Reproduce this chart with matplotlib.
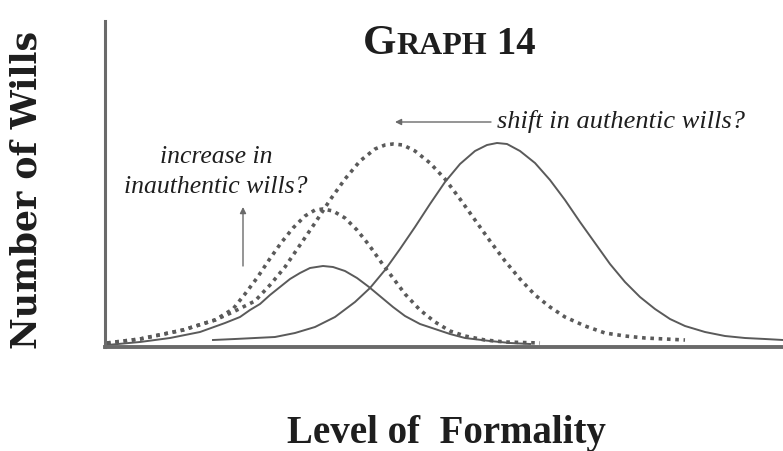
import matplotlib
matplotlib.use("Agg")
import matplotlib.pyplot as plt
from matplotlib.transforms import IdentityTransform

# 개념 그래프: 형식성 수준(x) 대 유언장 수(y) — 그림에서 읽은 점들
# 현재 진정한 유언장 (실선, 오른쪽)
auth_x = [108, 130, 150, 170, 190, 210, 230, 250, 265, 280, 295, 310, 325, 340,
          355, 370, 382, 392, 402, 415, 430, 445, 460, 475, 490, 505, 520,
          535, 550, 565, 580, 600, 620, 640, 660, 678]
auth_y = [7, 8, 9, 10, 14, 20, 30, 45, 59, 77, 98, 120, 143, 165,
          183, 196, 202, 204, 203, 196, 184, 167, 147, 125, 104, 83, 65,
          50, 38, 28, 21, 15, 11, 9, 8, 7]

# 이동된 진정한 유언장 (점선, 큰 곡선)
shift_x = [2, 35, 78, 110, 128, 150, 165, 180, 195, 210, 225, 240, 255, 270,
           280, 288, 298, 310, 325, 340, 355, 370, 385, 400, 415, 430, 445,
           460, 480, 500, 520, 540, 560, 580]
shift_y = [4, 8, 17, 27, 35, 46, 62, 80, 102, 124, 147, 168, 186, 198,
           202, 203, 202, 196, 184, 168, 148, 127, 106, 86, 68, 52, 40,
           30, 21, 14, 11, 9, 8, 7]

# 증가한 비진정 유언장 (점선, 작은 곡선)
incr_x = [2, 35, 78, 110, 128, 140, 152, 164, 176, 188, 200, 210, 218, 228,
          240, 252, 264, 276, 288, 300, 315, 330, 345, 360, 380, 400, 435]
incr_y = [4, 8, 17, 27, 38, 53, 69, 87, 104, 119, 131, 137, 138, 136,
          129, 117, 102, 85, 69, 53, 37, 25, 16, 11, 7, 5, 4]

# 현재 비진정 유언장 (실선, 작은 곡선)
inauth_x = [2, 35, 65, 95, 120, 135, 145, 155, 165, 175, 185, 195, 205, 218,
            228, 240, 252, 264, 276, 288, 300, 315, 330, 345, 360, 385, 405, 425]
inauth_y = [2, 5, 9, 15, 24, 30, 37, 43, 52, 60, 68, 74, 79, 81,
            80, 76, 69, 60, 50, 40, 31, 23, 18, 13, 9, 6, 4, 3]

title_parts = ["G", "RAPH", " 14"]
x_label = "Level of  Formality"
y_label = "Number of Wills"
note_shift = "shift in authentic wills?"
note_incr = ["increase in", "inauthentic wills?"]

line_col = "#5a5a5a"
axis_col = "#6a6a6a"
text_col = "#1e1e1e"
serif = ["Liberation Serif", "DejaVu Serif"]

fig = plt.figure(figsize=(7.83, 4.52), dpi=100)
ax = fig.add_axes([105 / 783, 104 / 452, 678 / 783, 326 / 452])
ax.set_xlim(0, 678)
ax.set_ylim(0, 326)

dots = (0, (1.0, 1.3))
ax.plot(shift_x, shift_y, color=line_col, lw=2.6, linestyle=dots)
ax.plot(incr_x, incr_y, color=line_col, lw=2.6, linestyle=dots)
ax.plot(auth_x, auth_y, color=line_col, lw=1.4, solid_joinstyle="round")
ax.plot(inauth_x, inauth_y, color=line_col, lw=1.4, solid_joinstyle="round")

for s in ["top", "right"]:
    ax.spines[s].set_visible(False)
ax.spines["left"].set_color(axis_col)
ax.spines["left"].set_linewidth(2.2)
ax.spines["bottom"].set_color(axis_col)
ax.spines["bottom"].set_linewidth(2.8)
ax.set_xticks([])
ax.set_yticks([])

# 주석
ax.annotate("", xy=(290, 225), xytext=(386, 225),
            arrowprops=dict(arrowstyle="-|>", color=axis_col, lw=1.0,
                            mutation_scale=9, shrinkA=0, shrinkB=0))
ax.text(392, 220, note_shift, family=serif, style="italic", fontsize=19,
        color=text_col, va="baseline", ha="left")

ax.text(111, 185, note_incr[0], family=serif, style="italic", fontsize=18.5,
        color=text_col, va="baseline", ha="center")
ax.text(111, 155, note_incr[1], family=serif, style="italic", fontsize=18.5,
        color=text_col, va="baseline", ha="center")
ax.annotate("", xy=(138, 140), xytext=(138, 81),
            arrowprops=dict(arrowstyle="-|>", color=axis_col, lw=1.0,
                            mutation_scale=9, shrinkA=0, shrinkB=0))

# 축 제목
fig.text(446 / 783, 1 - 443 / 452, x_label, family=serif, weight="bold",
         fontsize=28, color=text_col, ha="center", va="baseline")
fig.text(27 / 783, 1 - 190 / 452, y_label, family=["DejaVu Serif"],
         weight="bold", fontsize=25, color=text_col, rotation=90,
         ha="center", va="center")

# 작은 대문자 제목 (G + RAPH + 14)
fig.canvas.draw()
r = fig.canvas.get_renderer()
sizes = [31, 23, 28]
x_px, base_px = 363, 452 - 54
for part, fs in zip(title_parts, sizes):
    t = fig.text(x_px, base_px, part, family=serif, weight="bold", fontsize=fs,
                 color=text_col, ha="left", va="baseline",
                 transform=IdentityTransform())
    x_px = t.get_window_extent(r).x1

fig.savefig("out.png", dpi=100)
